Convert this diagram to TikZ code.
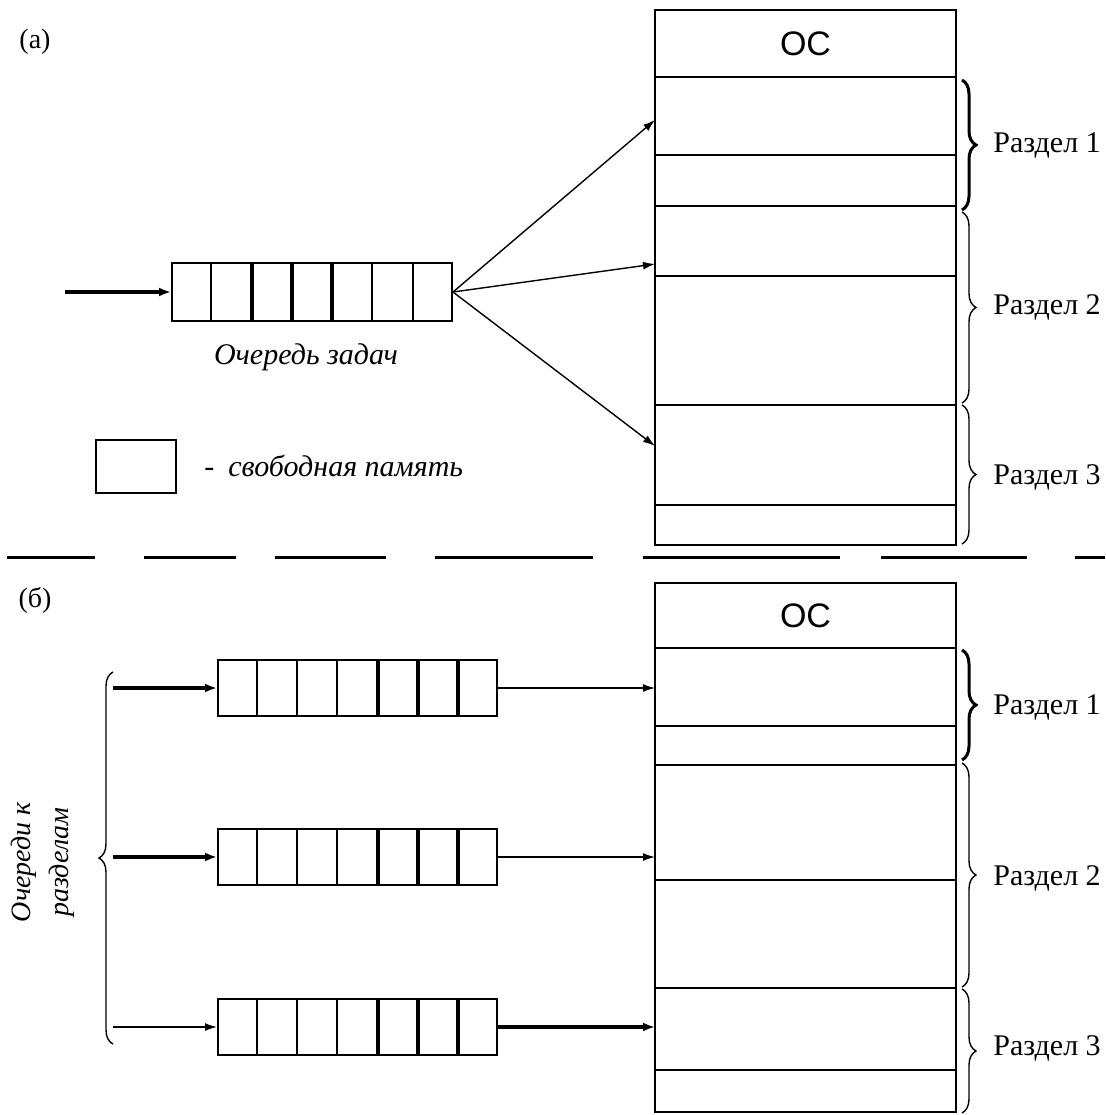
\documentclass[tikz,border=0pt]{standalone}
\usepackage{fontspec}
\setmainfont{Liberation Serif}
\newfontfamily\sansos{Liberation Sans}
\usetikzlibrary{arrows.meta,calc,decorations.pathreplacing}

\tikzset{
  memcell/.style={draw, line width=1pt, minimum width=150.5pt, inner sep=0pt},
  queue/.style={draw, line width=1pt, minimum width=140pt, minimum height=29pt, inner sep=0pt},
  thinarr/.style={line width=0.7pt, -{Latex[length=6pt,width=4pt]}},
  thickarr/.style={line width=1.8pt, -{Latex[length=6pt,width=4.5pt]}},
  brc/.style={decorate, decoration={brace, amplitude=7pt}, line width=0.7pt},
  seclbl/.style={anchor=west, inner sep=0pt, font=\fontsize{15pt}{18pt}\selectfont},
  note/.style={inner sep=0pt, font=\itshape\fontsize{15pt}{18pt}\selectfont},
  tag/.style={inner sep=0pt, font=\fontsize{14pt}{16pt}\selectfont},
}

\begin{document}
\begin{tikzpicture}[x=0.5pt, y=-0.5pt]
    \useasboundingbox (0,0) rectangle (1105,1115);

    % ---------- (a): one common queue ----------
    \node[tag] (tagA) at (35,42) {(а)};

    % Memory: OS on top, then the cells of the three partitions
    \node[memcell, minimum height=33.5pt, font=\sansos\fontsize{17pt}{20pt}\selectfont] (osA) at (805.5,43.5) {ОС};
    \foreach \t/\b [count=\i] in {77/155,155/206,206/276,276/405,405/505,505/545}
        \node[memcell, minimum height={(\b-\t)*0.5pt}] (mA\i) at (805.5,{(\t+\b)/2}) {};

    % Queue of tasks, seven cells (some dividers are drawn thicker)
    \node[queue] (qA) at (312,292) {};
    \foreach \k/\lw in {1/1pt,2/2pt,3/2pt,4/2pt,5/1pt,6/1pt}
        \draw[line width=\lw] ($(qA.north west)!\k/7!(qA.north east)$) -- ($(qA.south west)!\k/7!(qA.south east)$);
    \node[note] (qAlbl) at (306,357) {Очередь задач};

    % Incoming tasks and the three ways into memory
    \coordinate (inA) at (65,292);
    \draw[thickarr] (inA) -- (qA.west);
    \coordinate (tA1) at (655,120);
    \coordinate (tA2) at (655,264);
    \coordinate (tA3) at (655,446);
    \foreach \j in {1,2,3}
        \draw[thinarr] (qA.east) -- (tA\j);

    % Legend
    \node[draw, line width=1pt, minimum width=40pt, minimum height=26.5pt, inner sep=0pt] (free) at (136,466) {};
    \node[note, anchor=west] (freeLbl) at (204,466) {-\hspace{7pt}свободная память};

    % Partition braces
    \draw[brc, line width=1.5pt] (962,80) -- (962,210);
    \draw[brc] (962,212) -- (962,403);
    \draw[brc] (962,405) -- (962,544);
    \node[seclbl] (rA1) at (993,145) {Раздел 1};
    \node[seclbl] (rA2) at (993,307) {Раздел 2};
    \node[seclbl] (rA3) at (993,477) {Раздел 3};

    % Separator between (a) and (b)
    \foreach \a/\b in {7/95,144/236,275/386,435/593,643/840,881/1027,1075/1105}
        \draw[line width=1.5pt] (\a,557) -- (\b,557);

    % ---------- (b): a queue for every partition ----------
    \node[tag] (tagB) at (35,600) {(б)};

    \node[memcell, minimum height=32.5pt, font=\sansos\fontsize{17pt}{20pt}\selectfont] (osB) at (805.5,615.5) {ОС};
    \foreach \t/\b [count=\i] in {648/726,726/765,765/880,880/988,988/1070,1070/1112}
        \node[memcell, minimum height={(\b-\t)*0.5pt}] (mB\i) at (805.5,{(\t+\b)/2}) {};

    % Three queues
    \foreach \y [count=\i] in {688,857,1027}{%
        \node[queue, minimum width=139.5pt, minimum height=28pt] (qB\i) at (357.5,\y) {};
        \foreach \k/\lw in {1/1pt,2/1pt,3/1pt,4/2pt,5/2pt,6/2pt}
            \draw[line width=\lw] ($(qB\i.north west)!\k/7!(qB\i.north east)$) -- ($(qB\i.south west)!\k/7!(qB\i.south east)$);
        \coordinate (inB\i) at (113,\y);
        \coordinate (tB\i) at (655,\y);
    }
    \draw[thickarr] (inB1) -- (qB1.west);
    \draw[thickarr] (inB2) -- (qB2.west);
    \draw[thinarr] (inB3) -- (qB3.west);
    \draw[thinarr] (qB1.east) -- (tB1);
    \draw[thinarr] (qB2.east) -- (tB2);
    \draw[thickarr] (qB3.east) -- (tB3);

    % Brace grouping the queues
    \draw[brc] (113,1044) -- (113,672);
    \node[note, rotate=90, align=center, font=\itshape\fontsize{14pt}{19pt}\selectfont] (qBlbl) at (43,862) {Очереди к\\разделам};

    % Partition braces
    \draw[brc, line width=1.5pt] (962,650) -- (962,760);
    \draw[brc] (962,763) -- (962,987);
    \draw[brc] (962,989) -- (962,1113);
    \node[seclbl] (rB1) at (993,707) {Раздел 1};
    \node[seclbl] (rB2) at (993,878) {Раздел 2};
    \node[seclbl] (rB3) at (993,1048) {Раздел 3};
\end{tikzpicture}
\end{document}
